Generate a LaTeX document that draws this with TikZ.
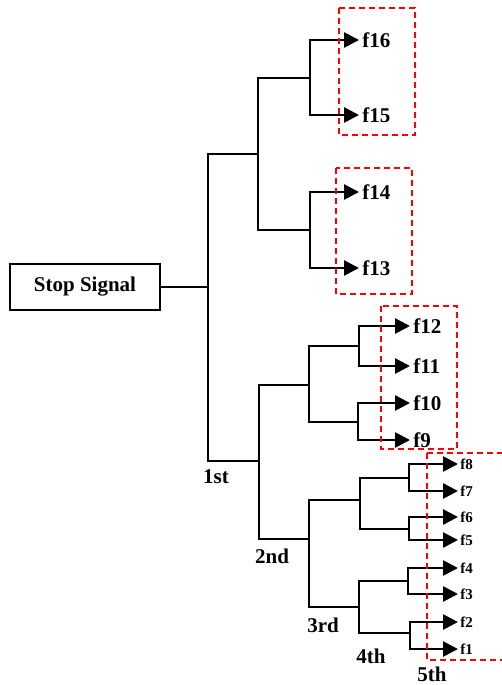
\documentclass[tikz,border=0pt]{standalone}
\usepackage{fontspec}
\setmainfont{Liberation Serif}
\usetikzlibrary{arrows.meta}
\begin{document}
\begin{tikzpicture}[x=1pt,y=-1pt,line width=2.7pt,
  font=\fontsize{21}{24}\selectfont\bfseries,
  leaf/.style={anchor=west,inner sep=2pt},
  smallleaf/.style={anchor=west,inner sep=1pt,font=\fontsize{15}{16}\selectfont\bfseries},
  tip/.style={-{Triangle[length=15pt,width=15pt]}},
  group/.style={draw=red,line width=1.8pt,dash pattern=on 6pt off 4pt}]
\useasboundingbox (0,0) rectangle (502,685);
\clip (0,0) rectangle (502,685);
% root
\node[draw,minimum width=150pt,minimum height=46pt,inner sep=0pt] (s) at (85,287) {Stop Signal};
% junctions
\coordinate (j1) at (208,307);
\coordinate (j2a) at (258,154);
\coordinate (j2b) at (259,461);
\coordinate (j3a) at (310,78);
\coordinate (j3b) at (310,230);
\coordinate (j3c) at (309,385);
\coordinate (j3d) at (309,539);
\coordinate (j4a) at (359,346);
\coordinate (j4b) at (358,422);
\coordinate (j4c) at (360,500);
\coordinate (j4d) at (359,607);
\coordinate (j5a) at (409,478);
\coordinate (j5b) at (409,529);
\coordinate (j5c) at (408,581);
\coordinate (j5d) at (410,633);
% leaves
\node[leaf] (f16) at (359,40) {f16};
\node[leaf] (f15) at (359,115) {f15};
\node[leaf] (f14) at (359,192) {f14};
\node[leaf] (f13) at (359,268) {f13};
\node[leaf] (f12) at (410,326) {f12};
\node[leaf] (f11) at (410,366) {f11};
\node[leaf] (f10) at (410,403) {f10};
\node[leaf] (f9) at (410,440) {f9};
\node[smallleaf] (f8) at (458,464) {f8};
\node[smallleaf] (f7) at (458,491) {f7};
\node[smallleaf] (f6) at (458,517) {f6};
\node[smallleaf] (f5) at (458,540) {f5};
\node[smallleaf] (f4) at (458,568) {f4};
\node[smallleaf] (f3) at (458,594) {f3};
\node[smallleaf] (f2) at (458,622) {f2};
\node[smallleaf] (f1) at (458,649) {f1};
% level labels
\node (l1) at (216,477) {1st};
\node (l2) at (272,556) {2nd};
\node (l3) at (323,625) {3rd};
\node (l4) at (371,656) {4th};
\node (l5) at (432,674) {5th};
% tree
\draw (s) -- (s -| j1);
\draw (j1) |- (j2a);
\draw (j1) |- (j2b);
\draw (j2a) |- (j3a);
\draw (j2a) |- (j3b);
\draw (j2b) |- (j3c);
\draw (j2b) |- (j3d);
\draw (j3c) |- (j4a);
\draw (j3c) |- (j4b);
\draw (j3d) |- (j4c);
\draw (j3d) |- (j4d);
\draw (j4c) |- (j5a);
\draw (j4c) |- (j5b);
\draw (j4d) |- (j5c);
\draw (j4d) |- (j5d);
\draw[tip] (j3a) |- (f16);
\draw[tip] (j3a) |- (f15);
\draw[tip] (j3b) |- (f14);
\draw[tip] (j3b) |- (f13);
\draw[tip] (j4a) |- (f12);
\draw[tip] (j4a) |- (f11);
\draw[tip] (j4b) |- (f10);
\draw[tip] (j4b) |- (f9);
\draw[tip] (j5a) |- (f8);
\draw[tip] (j5a) |- (f7);
\draw[tip] (j5b) |- (f6);
\draw[tip] (j5b) |- (f5);
\draw[tip] (j5c) |- (f4);
\draw[tip] (j5c) |- (f3);
\draw[tip] (j5d) |- (f2);
\draw[tip] (j5d) |- (f1);
% groups
\draw[group] (339,8) rectangle (415,135);
\draw[group] (336,168) rectangle (412,294);
\draw[group] (381,306) rectangle (457,449);
\draw[group] (427,453) rectangle (508,660);
\end{tikzpicture}
\end{document}
